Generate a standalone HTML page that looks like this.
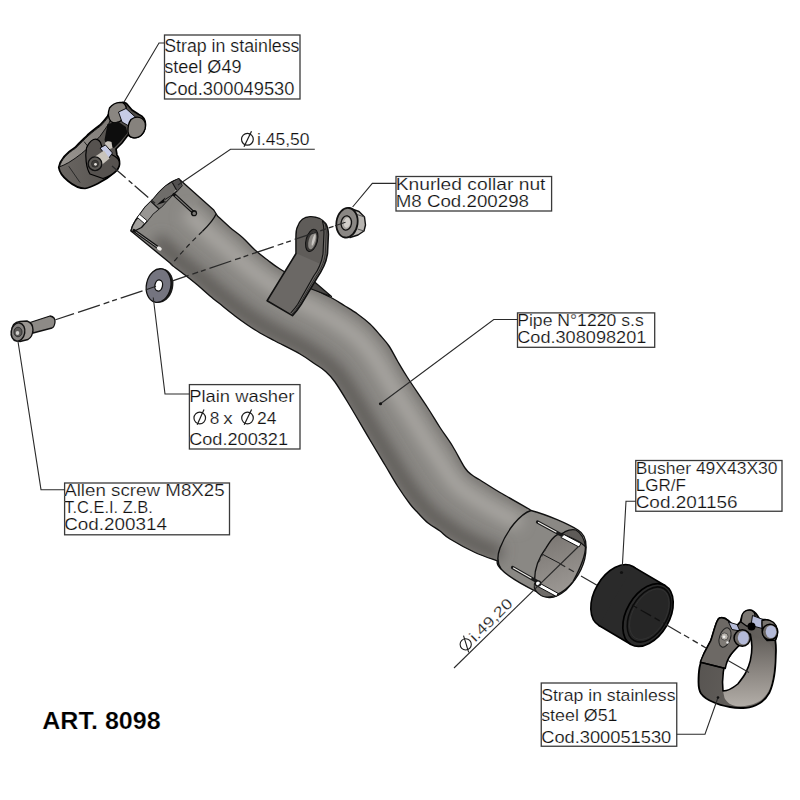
<!DOCTYPE html>
<html><head><meta charset="utf-8">
<style>
html,body{margin:0;padding:0;background:#fff;width:800px;height:800px;overflow:hidden;}
svg{display:block;}
text{font-family:"Liberation Sans",sans-serif;fill:#111;stroke:#fff;stroke-width:0.2px;}
.lb{fill:none;stroke:#3a3a3a;stroke-width:1.3;}
.ld{fill:none;stroke:#2a2a2a;stroke-width:1.1;}
.ax{fill:none;stroke:#2a2a2a;stroke-width:1.3;stroke-dasharray:23 4 6 3 5 4;}
</style></head><body>
<svg width="800" height="800" viewBox="0 0 800 800">
<defs>
  <path id="pipeShape" d="M178.75,178.75 L213.75,210 L217.5,216 C219.58,217.92 225.83,223.92 230.00,227.50 C234.17,231.08 238.33,233.75 242.50,237.50 C246.67,241.25 250.83,246.25 255.00,250.00 C259.17,253.75 263.33,256.83 267.50,260.00 C271.67,263.17 272.75,264.42 280.00,269.00 C287.25,273.58 302.50,282.75 311.00,287.50 C319.50,292.25 325.33,294.42 331.00,297.50 C336.67,300.58 340.58,303.25 345.00,306.00 C349.42,308.75 353.33,311.00 357.50,314.00 C361.67,317.00 366.25,320.50 370.00,324.00 C373.75,327.50 376.83,331.33 380.00,335.00 C383.17,338.67 386.08,341.67 389.00,346.00 C391.92,350.33 394.42,355.75 397.50,361.00 C400.58,366.25 402.50,369.75 407.50,377.50 C412.50,385.25 422.08,399.17 427.50,407.50 C432.92,415.83 435.83,421.08 440.00,427.50 C444.17,433.92 448.33,439.25 452.50,446.00 C456.67,452.75 461.75,463.17 465.00,468.00 C468.25,472.83 469.50,473.00 472.00,475.00 C474.50,477.00 475.33,477.08 480.00,480.00 C484.67,482.92 491.83,487.67 500.00,492.50 C508.17,497.33 524.17,506.25 529.00,509.00 L531,510.5 C548,515 568,524 578,530 C583,533 586,538 586,546 C586.5,560 580,576 566,590 C560,595 555,598 549,597.5 C545,597.5 541,595 537,592 C525,586 508,577 501,569 C497,565 497,562 497.5,561 C493.75,559.58 482.92,556.17 475.00,552.50 C467.08,548.83 455.83,542.58 450.00,539.00 C444.17,535.42 443.67,533.67 440.00,531.00 C436.33,528.33 431.67,526.00 428.00,523.00 C424.33,520.00 421.00,516.17 418.00,513.00 C415.00,509.83 413.42,508.50 410.00,504.00 C406.58,499.50 401.67,492.50 397.50,486.00 C393.33,479.50 389.58,472.67 385.00,465.00 C380.42,457.33 375.83,449.83 370.00,440.00 C364.17,430.17 355.83,415.67 350.00,406.00 C344.17,396.33 339.17,387.83 335.00,382.00 C330.83,376.17 328.33,374.00 325.00,371.00 C321.67,368.00 319.17,366.83 315.00,364.00 C310.83,361.17 306.67,357.83 300.00,354.00 C293.33,350.17 281.67,344.50 275.00,341.00 C268.33,337.50 264.58,335.67 260.00,333.00 C255.42,330.33 251.67,327.83 247.50,325.00 C243.33,322.17 239.17,319.17 235.00,316.00 C230.83,312.83 226.67,309.33 222.50,306.00 C218.33,302.67 214.17,299.50 210.00,296.00 C205.83,292.50 201.67,288.50 197.50,285.00 C193.33,281.50 189.08,278.17 185.00,275.00 C180.92,271.83 175.00,267.50 173.00,266.00 L170,263 L131,231 C131.25,230.17 131.75,227.75 132.50,226.00 C133.25,224.25 134.38,222.25 135.50,220.50 C136.62,218.75 137.62,217.71 139.25,215.50 C140.88,213.29 143.00,209.88 145.25,207.25 C147.50,204.62 150.46,202.21 152.75,199.75 C155.04,197.29 156.88,194.75 159.00,192.50 C161.12,190.25 163.42,187.98 165.50,186.25 C167.58,184.52 169.29,183.35 171.50,182.10 C173.71,180.85 177.54,179.31 178.75,178.75 Z"/>
  <clipPath id="cpPipe"><use href="#pipeShape"/></clipPath>
  <filter id="blur6" x="-30%" y="-30%" width="160%" height="160%"><feGaussianBlur stdDeviation="7"/></filter>
  <filter id="blur3" x="-30%" y="-30%" width="160%" height="160%"><feGaussianBlur stdDeviation="3"/></filter>
  <linearGradient id="gInt" x1="0" y1="0" x2="0.3" y2="1">
    <stop offset="0" stop-color="#77736f"/><stop offset="1" stop-color="#9a9692"/>
  </linearGradient>
</defs>
<rect width="800" height="800" fill="#fff"/>

<!-- ===== PIPE ===== -->
<use href="#pipeShape" fill="#8a8884"/>
<g clip-path="url(#cpPipe)">
  <polyline filter="url(#blur6)" fill="none" stroke="#5e5c59" stroke-width="16" stroke-linejoin="round" points="156.0,239.6 165.2,247.7 174.1,256.1 183.4,264.0 193.1,271.5 202.7,279.2 211.8,287.3 221.3,295.2 230.8,302.8 240.5,310.4 250.5,317.5 260.8,324.2 271.3,330.3 282.2,336.0 293.1,341.7 303.9,347.4 314.2,354.1 324.3,361.0 333.6,368.9 341.5,378.2 348.2,388.5 354.7,398.9 360.9,409.4 367.1,420.0 373.4,430.5 379.7,441.0 386.1,451.5 392.4,462.0 398.7,472.5 405.3,482.9 412.3,492.9 419.8,502.6 428.0,511.7 437.1,519.7 447.1,526.8 457.0,533.9 467.8,539.8 478.6,545.6 489.9,550.2 501.3,554.8"/>
  <polyline filter="url(#blur6)" fill="none" stroke="#afaca7" stroke-width="12" stroke-linejoin="round" points="186.0,212.6 195.4,219.9 203.5,228.5 212.4,236.5 221.6,244.1 230.8,251.7 239.4,260.0 248.5,267.8 257.9,275.1 267.6,282.3 277.7,288.6 287.9,294.9 298.1,301.0 308.8,306.4 319.4,311.9 329.8,317.9 339.9,324.3 349.7,331.1 358.8,338.7 366.8,347.7 374.1,357.1 380.5,367.2 386.5,377.5 392.7,387.8 399.0,397.9 405.5,408.0 412.0,418.0 418.4,428.1 424.7,438.3 431.1,448.3 437.9,458.2 444.5,468.2 451.0,478.1 458.7,487.0 468.3,494.1 478.3,500.6 488.5,506.8 498.9,512.7 509.6,518.1 520.2,523.6"/>
  <polyline filter="url(#blur3)" fill="none" stroke="#7a7773" stroke-width="5" stroke-linejoin="round" points="200.0,200.0 209.6,207.0 217.3,215.6 225.9,223.7 234.9,231.4 243.9,238.9 252.3,247.3 261.2,255.0 270.6,262.2 280.2,269.1 290.3,275.2 300.5,281.2 310.6,287.3 321.2,292.6 331.7,298.0 341.9,304.1 351.9,310.4 361.5,317.2 370.6,324.7 378.6,333.4 386.1,342.5 392.6,352.4 398.5,362.6 404.6,372.7 411.0,382.7 417.5,392.5 424.1,402.4 430.5,412.3 436.8,422.3 443.2,432.2 449.8,442.0 456.0,452.1 461.8,462.4 468.8,471.8 478.2,478.9 488.2,485.1 498.2,491.4 508.5,497.3 518.7,503.2 529.0,509.0"/>
</g>
<use href="#pipeShape" fill="none" stroke="#111" stroke-width="1.35" stroke-linejoin="round"/>

<!-- top collar crescent -->
<path fill="#a3a19e" stroke="#111" stroke-width="1.3" stroke-linejoin="round" d="M178.75,178.75 L171.50,182.10 L165.50,186.25 L159.00,192.50 L152.75,199.75 L145.25,207.25 L139.25,215.50 L135.50,220.50 L132.50,226.00 L131.00,230.80 L132.50,232.00 L141.50,227.50 L146.75,221.50 L152.75,214.00 L161.75,206.50 L171.50,196.00 L177.00,191.00 L182.00,185.50 Z"/>
<path fill="#6f6d6a" d="M172.25,182.5 L165.5,186.25 L159,192.5 L152.75,199.75 L151,201.5 L158.75,208.75 L161.75,206.5 L171.5,196 L176,189.25 Z"/>
<path fill="#525050" d="M178.75,178.75 L172.25,182.5 L176,189.25 L177,191 L182,185.5 Z"/>
<path fill="#989693" d="M151,201.5 L145.25,207.25 L139.25,215.5 L146.75,221.5 L152.75,214 L158.75,208.75 Z"/>
<path fill="none" stroke="#111" stroke-width="1.1" d="M172.25,182.5 L176.5,190 M151,201.5 L158.75,208.75"/>
<path fill="#fff" stroke="#111" stroke-width="0.9" d="M139.6,214.3 L137.2,217.3 L144.6,223.7 L147.2,220.8 Z"/>
<path fill="#0d0d0d" d="M156.5,205 L165.2,197.6 L164,201.2 L166.6,201.8 Z"/>
<line x1="165" y1="199.5" x2="173" y2="194.5" stroke="#111" stroke-width="0.9"/>
<!-- top collar shoulder line -->
<path fill="none" stroke="#111" stroke-width="1.3" d="M216.25,213.75 Q213,221 202.5,231.25"/>
<path fill="none" stroke="#222" stroke-width="1.2" stroke-dasharray="5 4" d="M202.5,231.25 Q185,248 171,265"/>
<!-- top slots -->
<line x1="174" y1="194.5" x2="194" y2="213" stroke="#111" stroke-width="3.3" stroke-linecap="round"/>
<line x1="175.5" y1="196" x2="192" y2="211.2" stroke="#7c7a77" stroke-width="1.1" stroke-linecap="round"/>
<circle cx="194" cy="213.2" r="3.1" fill="#111"/>
<circle cx="194.2" cy="213.4" r="1.7" fill="#7c7a77"/>
<line x1="134" y1="230.5" x2="159" y2="248.3" stroke="#111" stroke-width="3.2" stroke-linecap="round"/>
<line x1="136" y1="232" x2="157" y2="247" stroke="#8d8b88" stroke-width="1" stroke-linecap="round"/>
<ellipse cx="159.3" cy="248.5" rx="2.7" ry="1.9" fill="#eeece9" transform="rotate(35 159.3 248.5)"/>

<!-- bottom collar -->
<path fill="none" stroke="#111" stroke-width="1.4" d="M531,510.5 C520,514 507,530 500,548 C497,556 497,563 501,569"/>
<path fill="url(#gInt)" stroke="#111" stroke-width="1.4" stroke-linejoin="round" d="M556.9,534.9 C565,532 573,533 578,537 C583,540 585.5,544 585.5,547 C585.5,555 582,565 573,581.6 C568,588 563,592 557,594.4 L540.9,585 C537,583 534.6,581 534.6,579.5 C534.6,570 537,560 546.2,547.6 C549,543 553,537 556.9,534.9 Z"/>
<path fill="#5e5b58" stroke="#111" stroke-width="1.1" d="M562,534 C566,530 572,529 576,530 C581,533 584,537 585.5,546.6 L581,543 C577,540 570,537 562,534 Z"/>
<path fill="#6f6c69" stroke="#111" stroke-width="1.1" d="M535.6,581.6 C533,585 533,590 540.9,595.4 C545,597.5 550,598 556.9,594.4 L540,584 Z"/>
<line x1="537.5" y1="522" x2="561.5" y2="535" stroke="#1a1a1a" stroke-width="3.2" stroke-linecap="round"/>
<line x1="538.5" y1="522.5" x2="556" y2="532" stroke="#f0eeea" stroke-width="1.2" stroke-linecap="round"/>
<path fill="#fff" stroke="#111" stroke-width="1" d="M561,537.5 L579,547 L581,543.5 L564,534.5 Z"/>
<line x1="512.5" y1="567.5" x2="537" y2="581.5" stroke="#1a1a1a" stroke-width="3.2" stroke-linecap="round"/>
<line x1="513.5" y1="568" x2="531" y2="578" stroke="#f0eeea" stroke-width="1.2" stroke-linecap="round"/>
<path fill="#fff" stroke="#111" stroke-width="1" d="M538.8,582.7 L558,593.3 L556.5,596.5 L537,586 Z"/>
<circle cx="538" cy="583.5" r="2.6" fill="#fff" stroke="#111" stroke-width="1.2"/>
<line x1="542" y1="554" x2="560" y2="563.5" stroke="#1a1a1a" stroke-width="1"/>
<line x1="546" y1="548.7" x2="538.8" y2="562.5" stroke="#333" stroke-width="0.8" stroke-dasharray="3 3"/>

<!-- ===== BRACKET ===== -->
<g id="bracket">
  <path fill="#4a4846" stroke="#111" stroke-width="1.2" stroke-linejoin="round" d="M313.5,281 L331.5,296.5 L310,288.5 Z"/>
  <path fill="#6b6865" stroke="#111" stroke-width="1.6" stroke-linejoin="round" d="M267.1,300.75 L296,253.5 L296,237.75 C296,232 296.5,228.5 297.75,226.4 C300,220 304,217 310,216.75 C316,216.5 322,219 325.75,223.75 C327.5,226.5 328.2,230 328.4,234.25 L327.5,253.5 C326.8,258 325.8,262 324,265.75 C322,270 320,274 317,278 L301.25,304.25 C298.5,308.5 295.5,312.5 292.5,315.6 Z"/>
  <path fill="#5f5c59" d="M296.8,253.5 L296.8,237.75 C296.8,232 297.3,228.5 298.5,226.4 C300.8,220.5 304.5,217.8 310,217.6 C315.5,217.4 319.5,219 322.25,220.25 L324,232.5 L323,253.5 L320.5,264 Z"/>
  <path fill="none" stroke="#111" stroke-width="1.1" d="M322.25,220.25 C323.5,224 324,228 324,232.5 L323,253.5 C322.5,258 321.2,262 319.6,265.75 C318,270 316,273 313.5,276.25 L297.75,304.25 C295.5,307.5 293,310.5 290.75,313"/>
  <path fill="none" stroke="#222" stroke-width="0.8" d="M324.5,222 C325.8,225.5 326.2,229 326.2,233 L325.3,253.5 C324.7,258.5 323.5,262.5 321.8,266 C320,270 318,273.5 315.3,277.3 L299.5,304.3 C297,308 294.5,311.5 291.8,314.3"/>
  <ellipse cx="311.75" cy="240.4" rx="5.7" ry="11.4" transform="rotate(15 311.75 240.4)" fill="#3a3836" stroke="#111" stroke-width="1"/>
  <ellipse cx="312.3" cy="240.8" rx="3.6" ry="8.8" transform="rotate(15 312.3 240.8)" fill="#8b8884"/>
  <ellipse cx="313.6" cy="240" rx="1.3" ry="6" transform="rotate(15 313.6 240)" fill="#c9c6c2"/>
</g>
<!-- ===== NUT ===== -->
<g id="nut">
  <path fill="#b7b4b0" stroke="#111" stroke-width="1.4" stroke-linejoin="round" d="M349,208 L359,211.5 L364.5,217 L365.5,225 L364,231 L358,235 L350,237.5 Z"/>
  <path fill="none" stroke="#444" stroke-width="0.9" d="M357,214.5 L364.5,217 M357.5,229 L364,231"/>
  <ellipse cx="347" cy="222.75" rx="10.6" ry="14.9" transform="rotate(8 347 222.75)" fill="#8a8784" stroke="#111" stroke-width="1.8"/>
  <ellipse cx="346.3" cy="223" rx="5.2" ry="7.1" transform="rotate(8 346.3 223)" fill="#a9a6a2" stroke="#111" stroke-width="1.3"/>
  <ellipse cx="347" cy="222.8" rx="3.2" ry="5" transform="rotate(8 347 222.8)" fill="#d2cfcb"/>
</g>
<!-- ===== WASHER ===== -->
<g id="washer">
  <ellipse cx="160" cy="285.7" rx="13.2" ry="17.4" transform="rotate(12 160 285.7)" fill="#1a1a1a"/>
  <ellipse cx="158.6" cy="285.6" rx="12.2" ry="17" transform="rotate(12 158.6 285.6)" fill="#74747f" stroke="#111" stroke-width="1.3"/>
  <ellipse cx="158.7" cy="285.5" rx="3.8" ry="5.6" transform="rotate(12 158.7 285.5)" fill="#fff" stroke="#111" stroke-width="1.3"/>
</g>
<!-- ===== SCREW ===== -->
<g id="screw">
  <path fill="#8d8a86" stroke="#111" stroke-width="1.3" stroke-linejoin="round" d="M30,322.5 L50,316 Q55.5,317 55,322 Q54.5,327 52,328 L33,333 Z"/>
  <path fill="#9a9692" stroke="#111" stroke-width="1.4" stroke-linejoin="round" d="M20,321.5 L27,321 Q33,323 33,330 Q32.5,337 28,339.5 L20,341.5 Q12,341 11.5,332 Q12,322 20,321.5 Z"/>
  <ellipse cx="18" cy="332" rx="6.8" ry="9.2" transform="rotate(10 18 332)" fill="#858280" stroke="#111" stroke-width="1.4"/>
  <ellipse cx="18" cy="332" rx="4" ry="4.8" fill="#5a5856" stroke="#222" stroke-width="0.8"/>
  <ellipse cx="17.5" cy="333" rx="1.8" ry="2" fill="#cfcdca"/>
</g>


<!-- ===== BUSHER ===== -->
<g id="busher">
  <ellipse cx="616" cy="596" rx="21.5" ry="34" transform="rotate(30 616 596)" fill="#2a2a2a" stroke="#000" stroke-width="1.6"/>
  <path fill="#2a2a2a" stroke="none" d="M633,566.6 L665,585.5 L631,644.5 L599,625.5 Z"/>
  <path fill="none" stroke="#000" stroke-width="1.6" d="M633,566.6 L665,585.5 M599,625.5 L631,644.5"/>
  <ellipse cx="648" cy="615" rx="21.5" ry="34" transform="rotate(30 648 615)" fill="#2c2c2c" stroke="#000" stroke-width="1.7"/>
  <ellipse cx="649" cy="614.5" rx="18.3" ry="30" transform="rotate(30 649 614.5)" fill="#262626" stroke="#0a0a0a" stroke-width="1.5"/>
  <ellipse cx="649.3" cy="614.2" rx="16.3" ry="27.6" transform="rotate(30 649.3 614.2)" fill="none" stroke="#333" stroke-width="0.8"/>
</g>

<!-- ===== TOP STRAP ===== -->
<g id="strapTop">
  <defs>
    <linearGradient id="gLens" x1="0" y1="1" x2="1" y2="0">
      <stop offset="0" stop-color="#9a9691"/><stop offset="1" stop-color="#7c7874"/>
    </linearGradient>
    <linearGradient id="gBand" x1="0" y1="0" x2="1" y2="0">
      <stop offset="0" stop-color="#6a6662"/><stop offset="1" stop-color="#4a4744"/>
    </linearGradient>
  </defs>
  <!-- body silhouette -->
  <path fill="url(#gBand)" stroke="#000" stroke-width="1.7" stroke-linejoin="round" d="M58.75,167.5 C60,160 66,153 75,147.5 C80,142 84,138.5 87.5,135 C92,131 96,128 100,125 C103,122 105.5,119 107.5,116.25 L110,111.25 C112,108 114.5,105.5 117.5,104 C120.5,102.3 124,102 126.5,103.5 L132,110 L139,114.5 C142.5,116 145.5,119.5 145.5,124.5 C145.5,130 143,134 139,136.5 C135.5,138.5 131,138 128,135 L122,143 L116,149 L117,155 C118.5,157 119.8,160 119.6,164 C119.4,167.5 117.5,170 115,172 C110,176.5 104,180.5 98,183.5 C93,186 89,188 85,188.5 C80,188.5 74,186 68,181 C63,177 59.5,172.5 58.75,167.5 Z"/>
  <!-- lens (inner surface) -->
  <path fill="url(#gLens)" stroke="#111" stroke-width="1" d="M59.6,166.8 C61,160 67,153.5 75.5,148.3 C80.5,143 84.5,139.5 88,136 C92.5,132 96.5,129 100.5,126 C103.5,123 106,120 108,117.2 L110.5,112.5 L113,114 C111.5,117.5 110,120.5 108.75,123.75 C106,128 103,132 100,136.25 C97,139.5 94,142.5 91.25,145 C88,148 84.5,151 81.25,153.75 C77,157 73,160 68.75,162.5 C65.5,164.3 62.5,165.8 59.6,166.8 Z"/>
  <line x1="68.75" y1="166.25" x2="80" y2="182.5" stroke="#222" stroke-width="0.9"/>
  <line x1="84" y1="141.5" x2="88" y2="146.5" stroke="#111" stroke-width="0.9"/>
  <!-- back lug left -->
  <path fill="#8a8681" stroke="#000" stroke-width="1.3" stroke-linejoin="round" d="M109.5,108 C112,104.5 116,102.5 120,102.3 C123.5,102.3 126,104.5 126.3,108.5 C126.5,113 124.5,118 120.5,121 C117.5,123 113.5,123.3 111,121.5 C108.3,119 107.5,113 109.5,108 Z"/>
  <!-- back pin blue -->
  <path fill="#c6cbe6" stroke="#000" stroke-width="0.9" d="M118.5,112 L126,108.5 L137.5,119 L131.5,127.5 L122,122 Z"/>
  <!-- back lug right -->
  <path fill="#86827d" stroke="#000" stroke-width="1.3" stroke-linejoin="round" d="M131,119.5 C134,117 138.5,116.5 142,118.5 C145,120.5 146,124.5 145,129 C143.5,134 139.5,137.5 135,137.8 C131,138 128.3,135.5 128,131.5 C127.8,127 128.8,122.5 131,119.5 Z"/>
  <!-- dark gap -->
  <path fill="#0d0d0d" d="M107.5,124 L118,121.5 L126,127 L127.5,133 L120,142 L114,148 L107,146 L104.5,140 Z"/>
  <!-- beige pin upper -->
  <path fill="#c9c4bd" d="M105,143 C106,141 109,140.5 111.5,142 L112.5,148 L106,150.5 Z"/>
  <!-- front lug -->
  <path fill="#56524f" stroke="#000" stroke-width="1.2" stroke-linejoin="round" d="M86.5,148 C88,144 90.5,141 93.5,139.5 C96.5,138.5 99,140 100.5,142.5 L102.5,148.75 L112.5,155 C115.5,156.5 118.5,158.5 119.2,161.5 C119.8,164.5 119,167.5 116.5,170.5 C113,174 108,177 103,178.5 L90,174 C86,168 85,156 86.5,148 Z"/>
  <path fill="#c6cbe6" stroke="#000" stroke-width="0.9" d="M100,148 L105.5,145 L112.5,153 L108.5,158.5 Z"/>
  <path fill="#c8c3bb" d="M93,158 L104,150.5 L109.5,158.5 L98,168 Z"/>
  <circle cx="95" cy="163.75" r="6.8" fill="#5e5b57" stroke="#111" stroke-width="1.3"/>
  <circle cx="95" cy="163.75" r="3.5" fill="#403e3b" stroke="#222" stroke-width="0.6"/>
  <circle cx="95.5" cy="164.3" r="1.4" fill="#e6e3de"/>
</g>

<!-- ===== BOTTOM STRAP ===== -->
<g id="strapBot">
  <defs>
    <linearGradient id="gStrapIn" x1="0" y1="0" x2="0" y2="1">
      <stop offset="0" stop-color="#5f5b57"/><stop offset="0.5" stop-color="#8a8580"/><stop offset="1" stop-color="#b2ada7"/>
    </linearGradient>
    <linearGradient id="gStrapBand" x1="0" y1="0" x2="1" y2="0.3">
      <stop offset="0" stop-color="#55524f"/><stop offset="1" stop-color="#67635f"/>
    </linearGradient>
  </defs>
  <path fill="url(#gStrapBand)" stroke="#000" stroke-width="1.8" stroke-linejoin="round" d="M719.5,618 C723,617 726,618.5 728.25,620.6 L735.25,627.6 L740.5,621.5 C741,617 742,615 744,612.5 C746,610.5 749,609.8 752,610.5 C755,611.5 757,614 759.75,619.75 L765,619.75 C768,620 771,621 773.5,624 C776,627 777,630 776.8,635 L775.3,640.3 C776,645 776.2,649 775.8,655 C775.6,662 775.5,668 774.3,675 C773,683 771.5,688 769.5,692.5 C767,697 764,700.5 760,703 C755,706 751,707.5 746,707.8 C740,708.2 735,708 730,707 C724,706 718,704.5 713,702 C708,700 703.5,697 701,693.5 C699,690.5 698.5,687 698.5,682 C698.5,677 698.7,672 699.5,667.5 C700.5,662 702,658 704,653.5 L710.75,640.75 C713,634 715,626 717,621.5 C717.8,619.8 718.5,618.5 719.5,618 Z"/>
  <path fill="url(#gStrapIn)" d="M750.3,634 C756,636 762,638.5 766,641 C770,643.5 773,646.5 774,651 C774.8,658 774.5,666 773,675 C772,682 770.5,688 768,692 C765,697 761.5,700.5 757,702.5 C751,705.5 745,706.5 738,706.2 C732,706 727,703 724.5,698 L723,691 C729,690.8 733,688 737.8,684 C741,680 744,676 745.6,673 C748,668 749.5,664 750.3,660.6 C751.5,655 752,651 751.9,646.6 C751.7,642 751.2,638 750.3,634 Z"/>
  <path fill="#fff" stroke="#000" stroke-width="1.6" stroke-linejoin="round" d="M723,691 C722.3,685 722.5,678 723.3,672 C724,667 725.5,662 728,658.5 C730.5,654.5 734,650.5 737.5,647 C741,643.5 744.5,640.5 747.2,637.2 C748.5,636 749.5,635 750.3,634 C751.2,638 751.7,642 751.9,646.6 C752,651 751.5,655 750.3,660.6 C749.5,664 748,668 745.6,673 C744,676 741,680 737.8,684 C733,688 729,690.8 723,691 Z"/>
  <!-- left lug plate -->
  <path fill="#6d6965" stroke="#000" stroke-width="1.5" stroke-linejoin="round" d="M719.5,618 C723,617 726,618.5 728.25,620.6 L735.25,627.6 L741,634 L739,645.5 C736,648.5 733,651.5 730.5,655 C728,658.5 726.5,662 725.3,668.4 L700.3,662.2 C701.5,659 702.5,656.5 704,653.5 L710.75,640.75 C713,634 715,626 717,621.5 C717.8,619.8 718.5,618.5 719.5,618 Z"/>
  <path fill="none" stroke="#000" stroke-width="1.2" d="M700.3,662.2 L725.3,668.4"/>
  <ellipse cx="725" cy="637.5" rx="5.5" ry="10" transform="rotate(18 725 637.5)" fill="#7f7b76" stroke="#222" stroke-width="1"/>
  <circle cx="724.5" cy="636.5" r="3.6" fill="#b9b4ad" stroke="#444" stroke-width="0.8"/>
  <circle cx="724" cy="636.8" r="1.4" fill="#eee"/>
  <circle cx="727.5" cy="642.5" r="1.2" fill="#eee"/>
  <path fill="#b6bcd9" stroke="#000" stroke-width="0.9" d="M728.5,622 L737,624.5 L740,631 L732,629.5 Z"/>
  <!-- back lugs -->
  <path fill="#7c7873" stroke="#000" stroke-width="1.3" stroke-linejoin="round" d="M742.25,614.5 C744,611 747,610 750,610.2 C753,610.8 754.8,612.5 755,615 L754,623 C752,625.5 749,626.5 746.5,626 L741,622 Z"/>
  <path fill="#b6bcd9" stroke="#000" stroke-width="0.9" d="M752.5,615.5 L763,619.5 L762.5,628.5 L751,625.5 Z"/>
  <circle cx="751.5" cy="626.5" r="4" fill="#000"/>
  <!-- right lug -->
  <path fill="#77736e" stroke="#000" stroke-width="1.4" d="M762,620.5 C767,618.5 773,620.5 776,625.5 C777.5,629 777.5,633 776.8,637 L775.3,640.3 L767,640.5 C763,637 761.5,631 762,620.5 Z"/>
  <circle cx="770" cy="632" r="7.8" fill="#6c6864" stroke="#000" stroke-width="1.5"/>
  <ellipse cx="771" cy="631.8" rx="5.3" ry="6.3" fill="#b4bad8"/>
  <!-- front lug -->
  <circle cx="742.25" cy="638" r="8.2" fill="#6c6864" stroke="#000" stroke-width="1.5"/>
  <ellipse cx="743.3" cy="637.8" rx="5.5" ry="6.6" fill="#b4bad8"/>
</g>


<!-- ===== AXES ===== -->
<line x1="55.5" y1="319.8" x2="74" y2="313.6" stroke="#2a2a2a" stroke-width="1.2"/>
<line class="ax" x1="78" y1="312.3" x2="146" y2="289.7"/>
<line x1="146" y1="289.7" x2="156" y2="286.3" stroke="#222" stroke-width="1.1"/>
<line class="ax" x1="172.5" y1="280.9" x2="335" y2="225.8" style="stroke-dashoffset:6"/>
<line x1="335" y1="225.8" x2="345.5" y2="222.3" stroke="#2a2a2a" stroke-width="1.1"/>
<line class="ax" x1="112" y1="166" x2="157" y2="205" style="stroke-dasharray:18 4 5 3"/>
<line class="ax" x1="560" y1="563.8" x2="579" y2="574.7" style="stroke-dasharray:6 4"/>
<line x1="581" y1="576" x2="597" y2="585.2" stroke="#2a2a2a" stroke-width="1.2"/>
<line class="ax" x1="632" y1="605" x2="664" y2="623.3" style="stroke:#111;stroke-dasharray:6 4 12 4"/>
<line x1="665" y1="624" x2="681" y2="633.5" stroke="#2a2a2a" stroke-width="1.2"/>
<line class="ax" x1="684" y1="635" x2="706" y2="648" style="stroke-dasharray:6 4"/>
<line x1="728" y1="660.5" x2="749" y2="672.5" stroke="#2a2a2a" stroke-width="1.1"/>

<!-- ===== LABELS ===== -->
<g id="labels">
  <rect class="lb" x="164.5" y="35" width="135.5" height="64"/>
  <text font-size="18" x="164.2" y="52" textLength="135.3" lengthAdjust="spacingAndGlyphs">Strap in stainless</text>
  <text font-size="18" x="164.2" y="73" textLength="77.3" lengthAdjust="spacingAndGlyphs">steel Ø49</text>
  <text font-size="18" x="164.2" y="94.5" textLength="130.3" lengthAdjust="spacingAndGlyphs">Cod.300049530</text>

  <rect class="lb" x="396" y="176.5" width="155.6" height="34.5"/>
  <text font-size="16.5" x="395.7" y="189.5" textLength="149.8" lengthAdjust="spacingAndGlyphs">Knurled collar nut</text>
  <text font-size="16.5" x="395.7" y="207" textLength="133.3" lengthAdjust="spacingAndGlyphs">M8 Cod.200298</text>

  <rect class="lb" x="517.5" y="312.9" width="137.2" height="34.4"/>
  <text font-size="16.5" x="517.2" y="326.4" textLength="126.5" lengthAdjust="spacingAndGlyphs">Pipe N°1220 s.s</text>
  <text font-size="16.5" x="517.2" y="342.8" textLength="129.2" lengthAdjust="spacingAndGlyphs">Cod.308098201</text>

  <rect class="lb" x="189.4" y="384.6" width="110.6" height="64.4"/>
  <text font-size="16.5" x="189.2" y="402.4" textLength="105.2" lengthAdjust="spacingAndGlyphs">Plain washer</text>
  <text font-size="16.5" x="189.2" y="445" textLength="98.8" lengthAdjust="spacingAndGlyphs">Cod.200321</text>

  <rect class="lb" x="64.6" y="483" width="164.9" height="51.8"/>
  <text font-size="16" x="64.2" y="496.2" textLength="160.5" lengthAdjust="spacingAndGlyphs">Allen screw M8X25</text>
  <text font-size="16" x="64.2" y="513.3" textLength="88.6" lengthAdjust="spacingAndGlyphs">T.C.E.I. Z.B.</text>
  <text font-size="16" x="64.2" y="530.4" textLength="102.8" lengthAdjust="spacingAndGlyphs">Cod.200314</text>

  <rect class="lb" x="635.75" y="460.5" width="146.25" height="50.75"/>
  <text font-size="16.3" x="635.7" y="474.25" textLength="141.8" lengthAdjust="spacingAndGlyphs">Busher 49X43X30</text>
  <text font-size="16.3" x="635.7" y="490.75" textLength="50.3" lengthAdjust="spacingAndGlyphs">LGR/F</text>
  <text font-size="16.3" x="635.7" y="507.5" textLength="101.8" lengthAdjust="spacingAndGlyphs">Cod.201156</text>

  <rect class="lb" x="541.25" y="683" width="135.5" height="63.25"/>
  <text font-size="17" x="541.2" y="700.5" textLength="134.3" lengthAdjust="spacingAndGlyphs">Strap in stainless</text>
  <text font-size="17" x="541.2" y="721.25" textLength="76.3" lengthAdjust="spacingAndGlyphs">steel Ø51</text>
  <text font-size="17" x="541.2" y="742.5" textLength="130.1" lengthAdjust="spacingAndGlyphs">Cod.300051530</text>

  <text font-size="23.5" font-weight="bold" x="42.2" y="728.6" textLength="118.5" lengthAdjust="spacingAndGlyphs" style="fill:#000">ART. 8098</text>
</g>

<!-- diameter symbols -->
<g fill="none" stroke="#1c1c1c" stroke-width="1.2">
  <circle cx="247.4" cy="139.3" r="5.9"/><line x1="244" y1="146.7" x2="251.5" y2="131.3"/>
  <circle cx="199.75" cy="418" r="5.8"/><line x1="197.2" y1="424.8" x2="204" y2="409.6"/>
  <circle cx="247.5" cy="418" r="5.8"/><line x1="244.2" y1="424.8" x2="251.6" y2="409.6"/>
</g>
<text font-size="16.5" x="257" y="144.75" textLength="52.5" lengthAdjust="spacingAndGlyphs">i.45,50</text>
<text font-size="16.5" x="209.7" y="424" textLength="9.6" lengthAdjust="spacingAndGlyphs">8</text>
<text font-size="16.5" x="223.2" y="424" textLength="9.4" lengthAdjust="spacingAndGlyphs">x</text>
<text font-size="16.5" x="257" y="424" textLength="19.5" lengthAdjust="spacingAndGlyphs">24</text>
<g transform="translate(458,665) rotate(-44.6)">
  <g fill="none" stroke="#1c1c1c" stroke-width="1.1"><circle cx="20" cy="-9.3" r="5.6"/><line x1="16.5" y1="-1.5" x2="24.5" y2="-17"/></g>
  <text font-size="14.8" x="28" y="-4" textLength="54" lengthAdjust="spacingAndGlyphs">i.49,20</text>
</g>

<!-- leaders -->
<g class="ld">
  <polyline points="164.5,43 159,43 124,102"/>
  <polyline points="178,185 230.5,149.25 314.8,149.25"/>
  <polyline points="352.6,207 372.3,183.4 396,183.4"/>
  <polyline points="380.5,403.75 493.75,319.5 517.5,319.5"/>
  <polyline points="153.25,297.5 165,394 189.4,394"/>
  <polyline points="18,341.5 41,489.7 64.6,489.7"/>
  <polyline points="622,572 626,501.25 635.75,501.25"/>
  <polyline points="676.75,734.25 705,734.25 718,697.5"/>
  <line x1="454" y1="668" x2="578" y2="547"/>
</g>
<circle cx="380.5" cy="403.75" r="1.6" fill="#111"/>
<circle cx="621.5" cy="572.5" r="1.6" fill="#111"/>
<circle cx="718" cy="697.5" r="1.3" fill="#111"/>
</svg>
</body></html>
